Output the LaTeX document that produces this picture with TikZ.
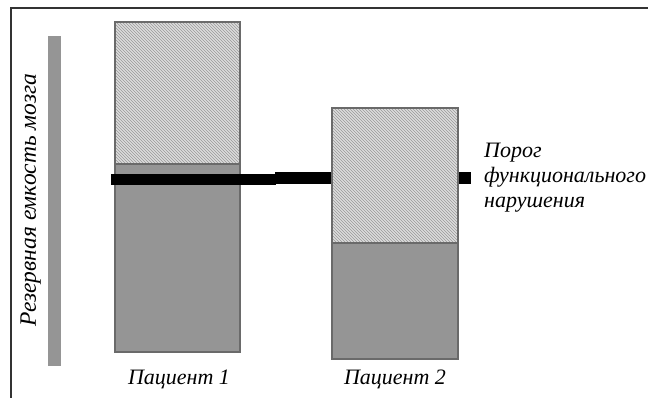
\documentclass[tikz,border=0pt]{standalone}
\usepackage{fontspec}
\setmainfont{Liberation Serif}
\usetikzlibrary{patterns}
\definecolor{darkfill}{HTML}{959595}
\definecolor{lightfill}{HTML}{DCDCDC}
\definecolor{edge}{HTML}{6A6A6A}
\begin{document}
\begin{tikzpicture}[x=1pt,y=-1pt,
  lbl/.style={font=\itshape\fontsize{22}{25}\selectfont, inner sep=0pt},
  vlbl/.style={font=\itshape\fontsize{23.5}{25}\selectfont, inner sep=0pt},
  lowerbar/.style={fill=darkfill, draw=edge, line width=1.2pt},
  upperbar/.style={draw=edge, line width=1.2pt},
  thresh/.style={fill=black}]
\useasboundingbox (0,0) rectangle (649,398);
% frame
\draw[line width=1.3pt, black!80] (11,398) -- (11,8) -- (648,8);
% axis bar
\fill[darkfill] (48,36) rectangle (61,366);
\node[vlbl, rotate=90, anchor=south] (ylab) at (41,200) {Резервная емкость мозга};
% patient 1
\fill[lightfill] (115,22) rectangle (240,164);
\fill[pattern=north west lines, pattern color=black!40] (115,22) rectangle (240,164);
\draw[upperbar] (115,22) rectangle (240,164);
\draw[lowerbar] (115,164) rectangle (240,352);
% threshold bar
\fill[thresh] (111,174) rectangle (276,185);
\fill[thresh] (275,172) rectangle (471,184);
% patient 2
\fill[lightfill] (332,108) rectangle (458,243);
\fill[pattern=north west lines, pattern color=black!40] (332,108) rectangle (458,243);
\draw[upperbar] (332,108) rectangle (458,243);
\draw[lowerbar] (332,243) rectangle (458,359);
% labels
\node[lbl, anchor=base] (p1) at (179,385) {Пациент 1};
\node[lbl, anchor=base] (p2) at (395,385) {Пациент 2};
\node[lbl, anchor=base west, align=left] (thr) at (484,208) {Порог\\функционального\\нарушения};
\end{tikzpicture}
\end{document}
